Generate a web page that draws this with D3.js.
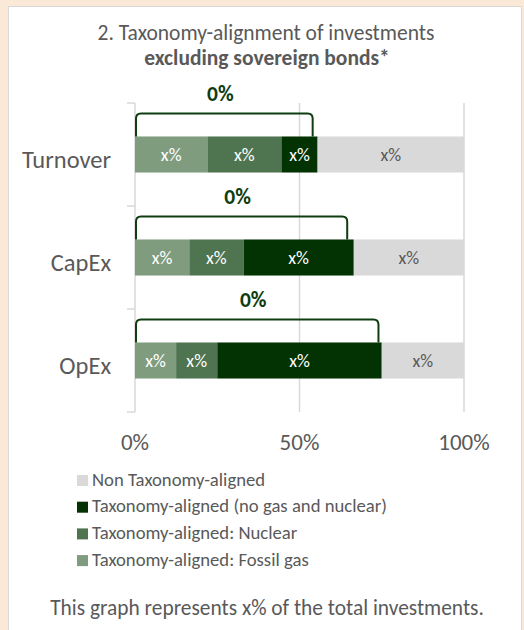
<!DOCTYPE html>
<html lang="en">
<head>
  <meta charset="UTF-8">
  <title>Taxonomy-alignment excluding sovereign bonds</title>
  <script src="https://d3js.org/d3.v7.min.js"></script>
  <style>
    html, body {
      margin: 0;
      padding: 0;
      background: #fbe9d7;
    }
    #chart {
      position: absolute;
      left: 8px;
      top: 6px;
      width: 514px;
      height: 640px;
      background: #fff;
      border: 1px solid #d9d9d9;
      box-sizing: border-box;
    }
    svg {
      position: absolute;
      left: 0;
      top: 0;
      font-family: Calibri, Carlito, Lato, sans-serif;
    }
    .grid line {
      stroke: #d9d9d9;
      stroke-width: 1.5px;
    }
    .bracket {
      fill: none;
      stroke: #0f3d0f;
      stroke-width: 2px;
    }
  </style>
</head>
<body>
  <div id="chart"></div>
  <svg id="svg" width="524" height="630"></svg>

  <script>
    // datos (% de cada tramo)
    const categorias = ["Turnover", "CapEx", "OpEx"];
    const gasFosil = [22, 16.5, 12.5];
    const nuclear = [22.5, 16.5, 12.5];
    const alineado = [11, 33.5, 50];
    const noAlineado = [44.5, 33.5, 25];
    const etiquetasBarra = ["x%", "x%", "x%", "x%"];
    const llave = [54, 64.5, 74];          // fin de la llave sobre cada barra
    const llaveTexto = ["0%", "0%", "0%"];
    const ticks = [0, 50, 100];
    const tickTexto = ["0%", "50%", "100%"];

    const series = [
      { nombre: "Taxonomy-aligned: Fossil gas", valores: gasFosil, color: "#7f9c7f", texto: "#fff" },
      { nombre: "Taxonomy-aligned: Nuclear", valores: nuclear, color: "#4e7450", texto: "#fff" },
      { nombre: "Taxonomy-aligned (no gas and nuclear)", valores: alineado, color: "#033303", texto: "#fff" },
      { nombre: "Non Taxonomy-aligned", valores: noAlineado, color: "#d9d9d9", texto: "#595959" }
    ];

    const svg = d3.select("#svg");

    const x = d3.scaleLinear().domain([0, 100]).range([135, 464]);
    const y = d3.scaleBand().domain(categorias).range([103, 412])
      .paddingInner(0.65).paddingOuter(0.325);

    // titulo
    svg.append("text")
      .attr("x", 266).attr("y", 40)
      .attr("text-anchor", "middle")
      .style("font-size", "21.5px").style("fill", "#595959")
      .text("2. Taxonomy-alignment of investments");
    svg.append("text")
      .attr("x", 267).attr("y", 65)
      .attr("text-anchor", "middle")
      .style("font-size", "21.5px").style("font-weight", "bold").style("fill", "#595959")
      .text("excluding sovereign bonds*");

    // rejilla vertical
    svg.append("g").attr("class", "grid")
      .selectAll("line")
      .data(ticks)
      .enter().append("line")
      .attr("x1", d => x(d)).attr("x2", d => x(d))
      .attr("y1", 103).attr("y2", 412);

    // marcas del eje de categorias
    const limites = categorias.map(c => y(c) - y.step() * 0.325).concat([412]);
    svg.append("g").attr("class", "grid")
      .selectAll("line")
      .data(limites)
      .enter().append("line")
      .attr("x1", x(0) - 8).attr("x2", x(0))
      .attr("y1", d => d).attr("y2", d => d);

    // barras apiladas
    const filas = categorias.map((c, i) => {
      const o = { cat: c };
      series.forEach((s, j) => o["s" + j] = s.valores[i]);
      return o;
    });
    const pila = d3.stack().keys(series.map((s, j) => "s" + j))(filas);

    pila.forEach((capa, j) => {
      const g = svg.append("g");
      g.selectAll("rect")
        .data(capa)
        .enter().append("rect")
        .attr("x", d => x(d[0]))
        .attr("width", d => x(d[1]) - x(d[0]))
        .attr("y", d => y(d.data.cat))
        .attr("height", y.bandwidth())
        .attr("fill", series[j].color);
      g.selectAll("text")
        .data(capa)
        .enter().append("text")
        .attr("x", d => (x(d[0]) + x(d[1])) / 2)
        .attr("y", d => y(d.data.cat) + y.bandwidth() / 2)
        .attr("dy", "0.35em")
        .attr("text-anchor", "middle")
        .style("font-size", "18px")
        .style("fill", series[j].texto)
        .text(etiquetasBarra[j]);
    });

    // etiquetas de categorias
    svg.append("g").selectAll("text")
      .data(categorias)
      .enter().append("text")
      .attr("x", 111)
      .attr("y", d => y(d) + y.bandwidth() / 2 + 13)
      .attr("text-anchor", "end")
      .style("font-size", "24.5px").style("fill", "#595959")
      .text(d => d);

    // llaves sobre la parte alineada
    const r = 5;
    categorias.forEach((c, i) => {
      const x0 = x(0) + 1, x1 = x(llave[i]);
      const base = y(c), top = base - 23;
      const p = d3.path();
      p.moveTo(x0, base);
      p.lineTo(x0, top + r);
      p.quadraticCurveTo(x0, top, x0 + r, top);
      p.lineTo(x1 - r, top);
      p.quadraticCurveTo(x1, top, x1, top + r);
      p.lineTo(x1, base);
      svg.append("path").attr("class", "bracket").attr("d", p.toString());
      svg.append("text")
        .attr("x", (x0 + x1) / 2 - 4)
        .attr("y", top - 12)
        .attr("text-anchor", "middle")
        .style("font-size", "21.5px").style("font-weight", "bold").style("fill", "#0f3d0f")
        .text(llaveTexto[i]);
    });

    // eje x
    svg.append("g").selectAll("text")
      .data(ticks)
      .enter().append("text")
      .attr("x", d => x(d))
      .attr("y", 450)
      .attr("text-anchor", "middle")
      .style("font-size", "23px").style("fill", "#595959")
      .text((d, i) => tickTexto[i]);

    // leyenda (orden inverso)
    const leyenda = series.slice().reverse();
    const item = svg.append("g").selectAll("g")
      .data(leyenda)
      .enter().append("g")
      .attr("transform", (d, i) => `translate(77,${480.5 + i * 26.7})`);
    item.append("rect")
      .attr("x", 0).attr("y", -5.5)
      .attr("width", 11).attr("height", 11)
      .attr("fill", d => d.color);
    item.append("text")
      .attr("x", 15).attr("y", 5)
      .style("font-size", "18.7px").style("fill", "#595959")
      .text(d => d.nombre);

    svg.append("text")
      .attr("x", 267).attr("y", 615)
      .attr("text-anchor", "middle")
      .style("font-size", "21.4px").style("fill", "#595959")
      .text("This graph represents x% of the total investments.");
  </script>
</body>
</html>
